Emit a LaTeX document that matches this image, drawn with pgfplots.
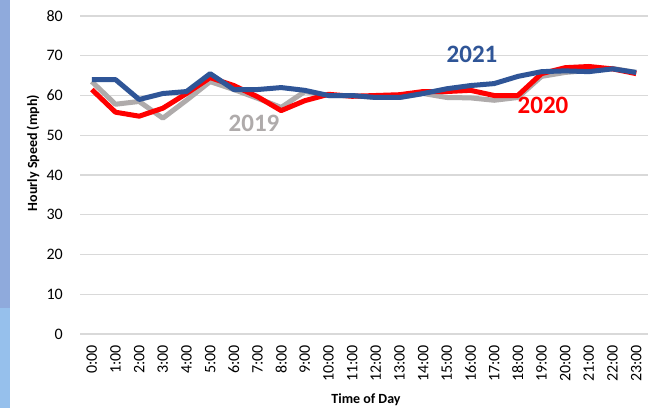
\documentclass[border=0pt]{standalone}
\usepackage{fontspec}
\setmainfont{Carlito}
\usepackage{pgfplots}
\pgfplotsset{compat=1.18}
\definecolor{c19}{RGB}{175,171,171}
\definecolor{c20}{RGB}{255,0,0}
\definecolor{c21}{RGB}{47,85,151}
\definecolor{gridgray}{RGB}{217,217,217}
\definecolor{stripeA}{RGB}{143,170,220}
\definecolor{stripeB}{RGB}{150,192,236}
\begin{document}
\begin{tikzpicture}
\useasboundingbox (0,0) rectangle (656pt,408pt);
\fill[white] (0,0) rectangle (656pt,408pt);
\fill[stripeA] (0,100pt) rectangle (10pt,408pt);
\fill[stripeB] (0,0) rectangle (10pt,100pt);
\begin{axis}[
  at={(80pt,74pt)}, anchor=south west,
  scale only axis, width=568pt, height=318pt,
  xmin=-0.5, xmax=23.5, ymin=0, ymax=80,
  ytick={0,10,...,80},
  xtick={0,...,23},
  xticklabels={0:00,1:00,2:00,3:00,4:00,5:00,6:00,7:00,8:00,9:00,10:00,11:00,12:00,13:00,14:00,15:00,16:00,17:00,18:00,19:00,20:00,21:00,22:00,23:00},
  axis line style={draw=none},
  tick style={draw=none},
  ymajorgrids,
  grid style={draw=gridgray, line width=1.2pt},
  /pgf/number format/assume math mode=true,
  tick label style={font=\fontsize{16}{16}\selectfont, inner sep=0pt},
  x tick label style={rotate=90, anchor=east},
  xticklabel shift=11pt,
  yticklabel shift=17pt,
  line join=round,
]
\addplot[c19, line width=5pt] coordinates {
(0,63.5)(1,57.8)(2,58.5)(3,54.3)(4,58.8)(5,63.5)(6,61.5)(7,59.3)(8,57)(9,61)(10,60)(11,60)(12,59.5)(13,59.5)(14,60.5)(15,59.5)(16,59.4)(17,58.8)(18,59.5)(19,64.8)(20,65.8)(21,66.3)(22,66.8)(23,65.8)};
\addplot[c20, line width=5pt] coordinates {
(0,61.5)(1,55.8)(2,54.8)(3,56.8)(4,60.5)(5,64.5)(6,62.5)(7,59.7)(8,56.2)(9,58.7)(10,60.3)(11,59.8)(12,60)(13,60.2)(14,61)(15,61)(16,61.3)(17,60)(18,60)(19,65.5)(20,67)(21,67.3)(22,66.7)(23,65.5)};
\addplot[c21, line width=5pt] coordinates {
(0,64)(1,64)(2,59)(3,60.5)(4,61)(5,65.5)(6,61.5)(7,61.5)(8,62)(9,61.3)(10,60)(11,60)(12,59.5)(13,59.5)(14,60.5)(15,61.7)(16,62.5)(17,63)(18,64.8)(19,66)(20,66.2)(21,66)(22,66.7)(23,65.8)};
\end{axis}
\node[font=\fontsize{25}{25}\selectfont\bfseries, text=c19] at (254pt,285pt) {2019};
\node[font=\fontsize{25}{25}\selectfont\bfseries, text=c20] at (543pt,303pt) {2020};
\node[font=\fontsize{25}{25}\selectfont\bfseries, text=c21] at (472pt,354pt) {2021};
\node[font=\fontsize{14}{14}\selectfont\bfseries, rotate=90] at (33pt,255pt) {Hourly Speed (mph)};
\node[font=\fontsize{14}{14}\selectfont\bfseries] at (366pt,8pt) {Time of Day};
\end{tikzpicture}
\end{document}
